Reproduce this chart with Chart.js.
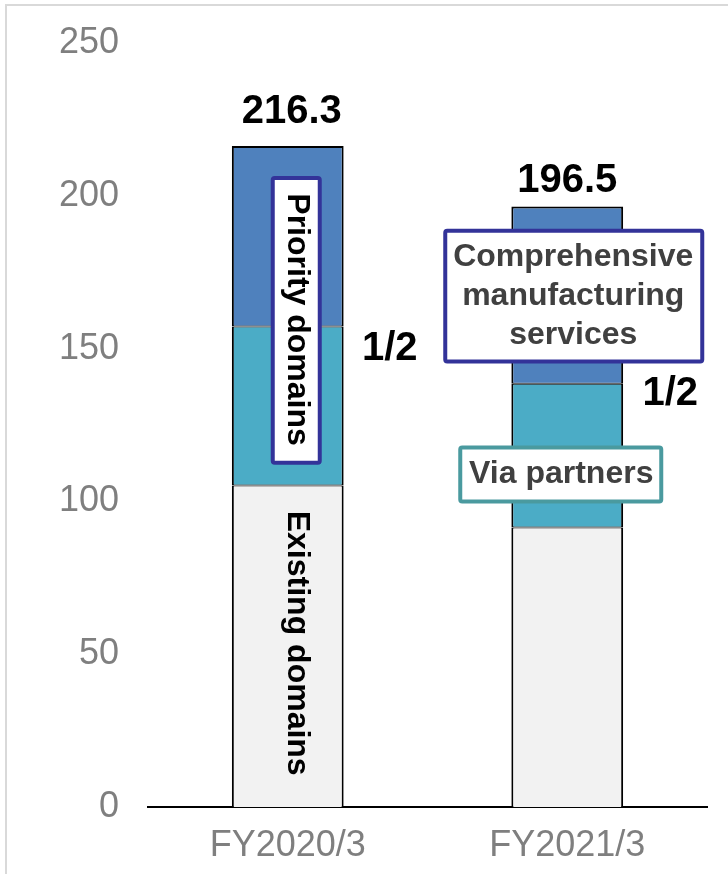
<!DOCTYPE html>
<html>
<head>
<meta charset="utf-8">
<script src="https://cdn.jsdelivr.net/npm/chart.js@4"></script>
<style>
  body { margin: 0; background: #fff; }
  canvas { display: block; }
</style>
</head>
<body>
<canvas id="chart" width="728" height="874"></canvas>
<script>
// Data
const categories = ['FY2020/3', 'FY2021/3'];
const existingDomains = [105.2, 91.5];
const viaPartners = [52.0, 47.0];
const priorityDomains = [59.1, 58.0];
const totalLabels = ['216.3', '196.5'];
const yTicks = [0, 50, 100, 150, 200, 250];

const FONT = "'Liberation Sans', Arial, sans-serif";

function roundBox(ctx, x1, y1, x2, y2, color) {
    ctx.save();
    ctx.beginPath();
    ctx.roundRect(x1 + 2, y1 + 2, x2 - x1 - 4, y2 - y1 - 4, 2);
    ctx.fillStyle = '#ffffff';
    ctx.fill();
    ctx.lineWidth = 4;
    ctx.strokeStyle = color;
    ctx.stroke();
    ctx.restore();
}

function text(ctx, str, x, y, font, color, rotate) {
    ctx.save();
    ctx.translate(x, y);
    if (rotate) ctx.rotate(Math.PI / 2);
    ctx.font = font;
    ctx.fillStyle = color;
    ctx.textAlign = 'center';
    ctx.textBaseline = 'middle';
    ctx.fillText(str, 0, 0);
    ctx.restore();
}

// Labels, boxes and frame drawn on top of the bars
const annotations = {
    id: 'annotations',
    afterDatasetsDraw(chart) {
        const ctx = chart.ctx;
        const y = chart.scales.y;
        const top = chart.getDatasetMeta(2).data;
        const cx0 = top[0].x, cx1 = top[1].x;

        // totals above the bars
        ctx.save();
        ctx.font = 'bold 40px ' + FONT;
        ctx.fillStyle = '#000';
        ctx.textAlign = 'center';
        ctx.textBaseline = 'alphabetic';
        ctx.fillText(totalLabels[0], cx0 + 4, top[0].y - 23);
        ctx.fillText(totalLabels[1], cx1, top[1].y - 14);
        ctx.restore();

        // FY2020/3 rotated labels
        roundBox(ctx, cx0 - 17, y.getPixelForValue(206.5), cx0 + 34, y.getPixelForValue(112), '#333399');
        text(ctx, 'Priority domains', cx0 + 9, y.getPixelForValue(159.5), 'bold 32px ' + FONT, '#000', true);
        text(ctx, 'Existing domains', cx0 + 9, y.getPixelForValue(53.6), 'bold 32px ' + FONT, '#000', true);

        // FY2021/3 boxes
        roundBox(ctx, cx1 - 124, y.getPixelForValue(189.2), cx1 + 137, y.getPixelForValue(145.1), '#333399');
        const midY = y.getPixelForValue(167);
        ['Comprehensive', 'manufacturing', 'services'].forEach((s, i) => {
            text(ctx, s, cx1 + 6, midY + (i - 1) * 39, 'bold 32px ' + FONT, '#404040', false);
        });
        roundBox(ctx, cx1 - 109, y.getPixelForValue(118.3), cx1 + 96, y.getPixelForValue(99.3), '#4a9a9f');
        text(ctx, 'Via partners', cx1 - 6, y.getPixelForValue(108.8), 'bold 32px ' + FONT, '#404040', false);

        // 1/2 markers
        text(ctx, '1/2', cx0 + 102, y.getPixelForValue(150), 'bold 40px ' + FONT, '#000', false);
        text(ctx, '1/2', cx1 + 103, y.getPixelForValue(135), 'bold 40px ' + FONT, '#000', false);

        // light frame on top and left
        ctx.save();
        ctx.strokeStyle = '#d9d9d9';
        ctx.lineWidth = 2;
        ctx.beginPath();
        ctx.moveTo(6, 874);
        ctx.lineTo(6, 5);
        ctx.lineTo(728, 5);
        ctx.stroke();
        ctx.restore();
    }
};

const ctx = document.getElementById('chart').getContext('2d');
new Chart(ctx, {
    type: 'bar',
    data: {
        labels: categories,
        datasets: [
            {
                label: 'Existing domains',
                data: existingDomains,
                backgroundColor: '#f2f2f2',
                borderColor: '#000',
                borderWidth: { top: 1, bottom: 0, left: 2, right: 2 }
            },
            {
                label: 'Via partners',
                data: viaPartners,
                backgroundColor: '#4bacc6',
                borderColor: '#000',
                borderWidth: { top: 1, bottom: 1, left: 2, right: 2 }
            },
            {
                label: 'Priority domains',
                data: priorityDomains,
                backgroundColor: '#4f81bd',
                borderColor: '#000',
                borderWidth: { top: 2, bottom: 1, left: 2, right: 2 }
            }
        ]
    },
    options: {
        responsive: false,
        animation: false,
        maintainAspectRatio: false,
        layout: { padding: { top: 43, right: 21, left: 0, bottom: 0 } },
        datasets: {
            bar: {
                categoryPercentage: 1.0,
                barPercentage: 0.4,
                borderSkipped: false
            }
        },
        plugins: {
            legend: { display: false },
            tooltip: { enabled: false }
        },
        scales: {
            x: {
                stacked: true,
                grid: { display: false, drawTicks: false },
                border: { display: true, color: '#000', width: 2 },
                ticks: {
                    color: '#7f7f7f',
                    font: { family: FONT, size: 36 },
                    padding: 17
                },
                afterFit: s => { s.height = 67; }
            },
            y: {
                stacked: true,
                min: 0,
                max: 250,
                grid: { display: false, drawTicks: false },
                border: { display: false },
                afterBuildTicks: s => { s.ticks = yTicks.map(v => ({ value: v })); },
                ticks: {
                    color: '#7f7f7f',
                    font: { family: FONT, size: 36 },
                    padding: 29
                },
                afterFit: s => {
                    s.width = 148;
                    s.paddingTop = 0;
                    s.paddingBottom = 0;
                }
            }
        }
    },
    plugins: [annotations]
});
</script>
</body>
</html>
